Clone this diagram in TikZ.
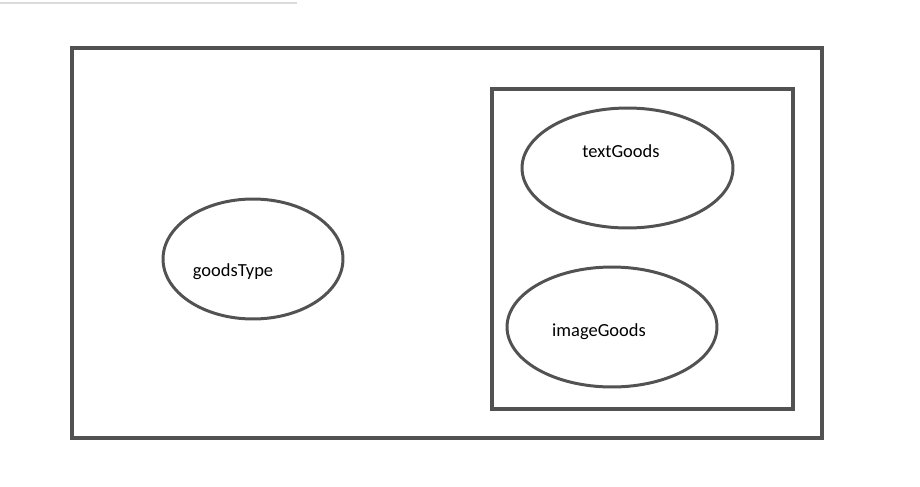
\documentclass[tikz,border=0pt]{standalone}
\usepackage{fontspec}
\setmainfont{Carlito}
\usetikzlibrary{shapes.geometric, positioning}
\tikzset{
	boxnode/.style={draw=black!68, line width=1.9pt, inner sep=0pt},
	labeltext/.style={font=\fontsize{10.5}{12}\selectfont, inner sep=0pt}
}

\begin{document}
\begin{tikzpicture}[x=0.02cm, y=-0.02cm]

      \tikzset{
        ovalnode/.style={
            shape=ellipse,
            draw=black!68,
            line width=1.7pt,
            fill=white,
            inner sep=0pt
          }
      }

      \useasboundingbox (0,0) rectangle (920,487);
      \draw[black!14, line width=0.6pt] (0,3) -- (297,3);

      % outer and inner boxes
      \node[boxnode, minimum width=15cm, minimum height=7.8cm] (outer) at (447,243) {};
      \node[boxnode, minimum width=6.02cm, minimum height=6.4cm] (inner) at (642.5,249) {};

      \node[ovalnode, minimum width=3.6cm, minimum height=2.4cm] (goodsType) at (253,259) {};
      \node[ovalnode, minimum width=4.22cm, minimum height=2.4cm] (textGoods) at (627.5,168) {};
      \node[ovalnode, minimum width=4.2cm, minimum height=2.4cm] (imageGoods) at (612,327) {};

      \node[labeltext] (goodsTypeLabel) at ([xshift=-0.4cm, yshift=-0.25cm]goodsType.center) {goodsType};
      \node[labeltext] (textGoodsLabel) at ([xshift=-0.13cm, yshift=0.33cm]textGoods.center) {textGoods};
      \node[labeltext] (imageGoodsLabel) at ([xshift=-0.26cm, yshift=-0.09cm]imageGoods.center) {imageGoods};
    \end{tikzpicture}
\end{document}
